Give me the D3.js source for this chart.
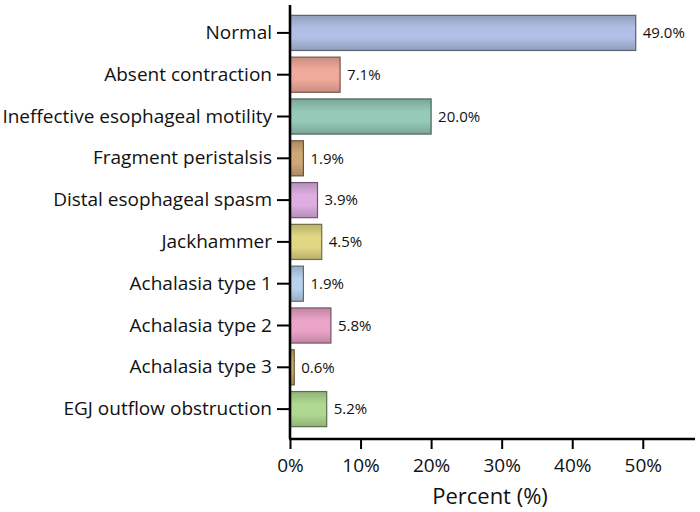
<!DOCTYPE html>
<html>
<head>
<meta charset="utf-8">
<script src="https://cdn.jsdelivr.net/npm/d3@7"></script>
<style>
  body { margin: 0; background: #fff; }
  svg text { font-family: "Open Sans", "Noto Sans", sans-serif; fill: #111; }
</style>
</head>
<body>
<script>
const categories = ["Normal", "Absent contraction", "Ineffective esophageal motility",
  "Fragment peristalsis", "Distal esophageal spasm", "Jackhammer",
  "Achalasia type 1", "Achalasia type 2", "Achalasia type 3", "EGJ outflow obstruction"];
const percents = [49.0, 7.1, 20.0, 1.9, 3.9, 4.5, 1.9, 5.8, 0.6, 5.2];
const colors = ["#aab8dd", "#e8a496", "#90c2b2", "#c9a173", "#d6a7d9",
  "#d9cf7e", "#b2cbe6", "#e39dc0", "#c9a766", "#a9d18b"];
const xTicks = [0, 10, 20, 30, 40, 50];

const w = 700, h = 512;
const padLeft = 290, padRight = 695, padTop = 12, padBottom = 430, axisY = 439;

const svg = d3.select("body").append("svg")
  .attr("width", w).attr("height", h);

const x = d3.scaleLinear().domain([0, 57.4]).range([padLeft, padRight]);
const y = d3.scaleBand().domain(categories).range([padTop, padBottom]).paddingInner(0.16).paddingOuter(0.08);

// gradients: darker at top/bottom edges, lighter in the middle
const defs = svg.append("defs");
colors.forEach((c, i) => {
  const g = defs.append("linearGradient").attr("id", "g" + i)
    .attr("x1", 0).attr("y1", 0).attr("x2", 0).attr("y2", 1);
  g.append("stop").attr("offset", "0%").attr("stop-color", d3.color(c).darker(0.45));
  g.append("stop").attr("offset", "35%").attr("stop-color", d3.color(c).brighter(0.1));
  g.append("stop").attr("offset", "65%").attr("stop-color", d3.color(c).brighter(0.1));
  g.append("stop").attr("offset", "100%").attr("stop-color", d3.color(c).darker(0.45));
});

svg.selectAll("rect.bar")
  .data(categories)
  .enter()
  .append("rect")
  .attr("class", "bar")
  .attr("x", x(0))
  .attr("y", d => y(d))
  .attr("width", (d, i) => x(percents[i]) - x(0))
  .attr("height", y.bandwidth())
  .attr("fill", (d, i) => "url(#g" + i + ")")
  .attr("stroke", (d, i) => d3.color(colors[i]).darker(1.8))
  .attr("stroke-width", 1.2);

svg.selectAll("text.val")
  .data(categories)
  .enter()
  .append("text")
  .attr("class", "val")
  .attr("x", (d, i) => x(percents[i]) + 7)
  .attr("y", d => y(d) + y.bandwidth() / 2)
  .attr("dy", "0.35em")
  .attr("font-size", 15)
  .text((d, i) => percents[i].toFixed(1) + "%");

// y axis
const yAxis = svg.append("g")
  .attr("transform", "translate(" + padLeft + ",0)")
  .call(d3.axisLeft(y).tickSize(13).tickPadding(5));
yAxis.select(".domain").attr("d", "M0,5V" + axisY).attr("stroke-width", 2.6);
yAxis.selectAll(".tick line").attr("stroke-width", 2);
yAxis.selectAll(".tick text").attr("font-size", 19).attr("fill", "#111")
  .attr("font-family", "\"Open Sans\", sans-serif");

// x axis
const xAxis = svg.append("g")
  .attr("transform", "translate(0," + axisY + ")")
  .call(d3.axisBottom(x).tickValues(xTicks).tickFormat(d => d + "%").tickSize(10).tickPadding(10));
xAxis.select(".domain").attr("d", "M" + (padLeft - 1) + ",0H" + padRight).attr("stroke-width", 2.6);
xAxis.selectAll(".tick line").attr("stroke-width", 2);
xAxis.selectAll(".tick text").attr("font-size", 19).attr("fill", "#111")
  .attr("font-family", "\"Open Sans\", sans-serif");

svg.append("text")
  .attr("x", 490)
  .attr("y", 504)
  .attr("text-anchor", "middle")
  .attr("font-size", 22)
  .text("Percent (%)");
</script>
</body>
</html>
